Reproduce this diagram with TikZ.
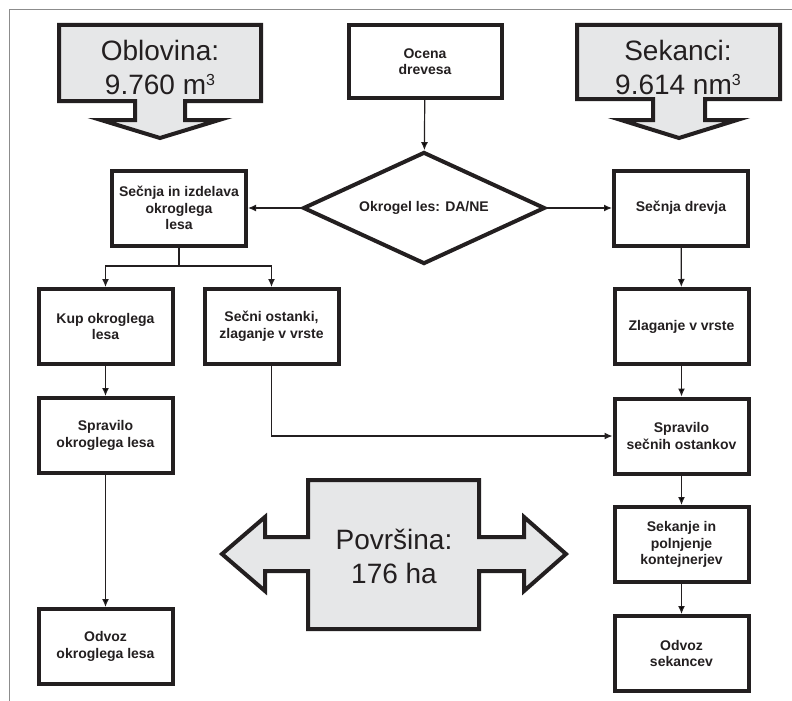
\documentclass[tikz,border=0pt]{standalone}
\usepackage{fontspec}
\setmainfont{Liberation Sans}
\usetikzlibrary{shapes.geometric,arrows.meta}
\tikzset{>={Latex[length=8pt,width=7pt]}}
\definecolor{crna}{HTML}{231F20}
\definecolor{svetlosiva}{HTML}{E6E7E8}
\definecolor{okvir}{HTML}{8C8C8C}
\newcommand{\kubik}{\raisebox{9pt}{\fontsize{16}{16}\selectfont 3}}
\tikzset{
  korak/.style={rectangle,draw=crna,text=crna,line width=4pt,minimum width=134pt,minimum height=75pt,inner sep=2pt,align=center,font=\fontsize{14}{16.5}\selectfont\bfseries},
  odlocitev/.style={diamond,draw=crna,text=crna,line width=4pt,minimum width=242pt,minimum height=112pt,inner sep=0pt,aspect=2,font=\fontsize{14}{16.5}\selectfont\bfseries},
  puscica/.style={draw=crna,line width=4pt,fill=svetlosiva,miter limit=10},
  napis/.style={text=crna,align=center,inner sep=0pt,font=\fontsize{28}{34}\selectfont},
  povezava/.style={draw=crna,->,line width=1.2pt}
}

\begin{document}
\begin{tikzpicture}[x=1pt,y=-1pt]
\useasboundingbox (0,0) rectangle (792,701);
\draw[okvir,line width=1pt] (9,701) -- (9,10) -- (792,10);
% velike puscice
\path[puscica] (59,25) -- (261,25) -- (261,101) -- (185,101) -- (185,120) -- (219,120) -- (160,138) -- (101,120) -- (135,120) -- (135,101) -- (59,101) -- cycle;
\path[puscica] (577,25) -- (780,25) -- (780,99) -- (705,99) -- (705,120) -- (737,120) -- (679,138) -- (621,120) -- (653,120) -- (653,99) -- (577,99) -- cycle;
\path[puscica] (308,480) -- (479,480) -- (479,537) -- (524,537) -- (524,517) -- (566,554) -- (524,591) -- (524,571) -- (479,571) -- (479,629) -- (308,629) -- (308,571) -- (265,571) -- (265,591) -- (222,554) -- (265,517) -- (265,537) -- (308,537) -- cycle;
\node[napis] (oblovina) at (160,67) {Oblovina:\\9.760 m\kubik};
\node[napis] (sekanci) at (678,67) {Sekanci:\\9.614 nm\kubik};
\node[napis] (povrsina) at (394,556) {Površina:\\176 ha};
% koraki
\node[korak,minimum width=153pt,minimum height=73pt] (ocena) at (425,61.5) {Ocena\\drevesa};
\node[odlocitev] (okrogel) at (424,208) {Okrogel les: DA/NE};
\node[korak] (secnjaizd) at (179,208) {Sečnja in izdelava\\okroglega\\lesa};
\node[korak] (secnjadrevja) at (681,208) {Sečnja drevja};
\node[korak] (kup) at (105.5,326.5) {Kup okroglega\\lesa};
\node[korak] (ostanki) at (271.5,326.5) {Sečni ostanki,\\zlaganje v vrste};
\node[korak] (spravilook) at (105.5,435.5) {Spravilo\\okroglega lesa};
\node[korak] (odvozok) at (105.5,646.5) {Odvoz\\okroglega lesa};
\node[korak] (zlaganje) at (681.5,326.5) {Zlaganje v vrste};
\node[korak] (spraviloso) at (681.5,436) {Spravilo\\sečnih ostankov};
\node[korak] (sekanje) at (681.5,544.5) {Sekanje in\\polnjenje\\kontejnerjev};
\node[korak] (odvozsek) at (681.5,653.5) {Odvoz\\sekancev};
\coordinate (razcep) at (179,266);
% povezave
\path [povezava] (ocena) edge (okrogel);
\path [povezava] (okrogel) edge (secnjaizd);
\path [povezava] (okrogel) edge (secnjadrevja);
\path [draw=crna,line width=1.2pt] (secnjaizd) -- (razcep);
\draw [povezava] (razcep) -| (kup);
\draw [povezava] (razcep) -| (ostanki);
\path [povezava] (kup) edge (spravilook);
\path [povezava] (spravilook) edge (odvozok);
\draw [povezava] (ostanki) |- (spraviloso);
\path [povezava] (secnjadrevja) edge (zlaganje);
\path [povezava] (zlaganje) edge (spraviloso);
\path [povezava] (spraviloso) edge (sekanje);
\path [povezava] (sekanje) edge (odvozsek);
\end{tikzpicture}
\end{document}
